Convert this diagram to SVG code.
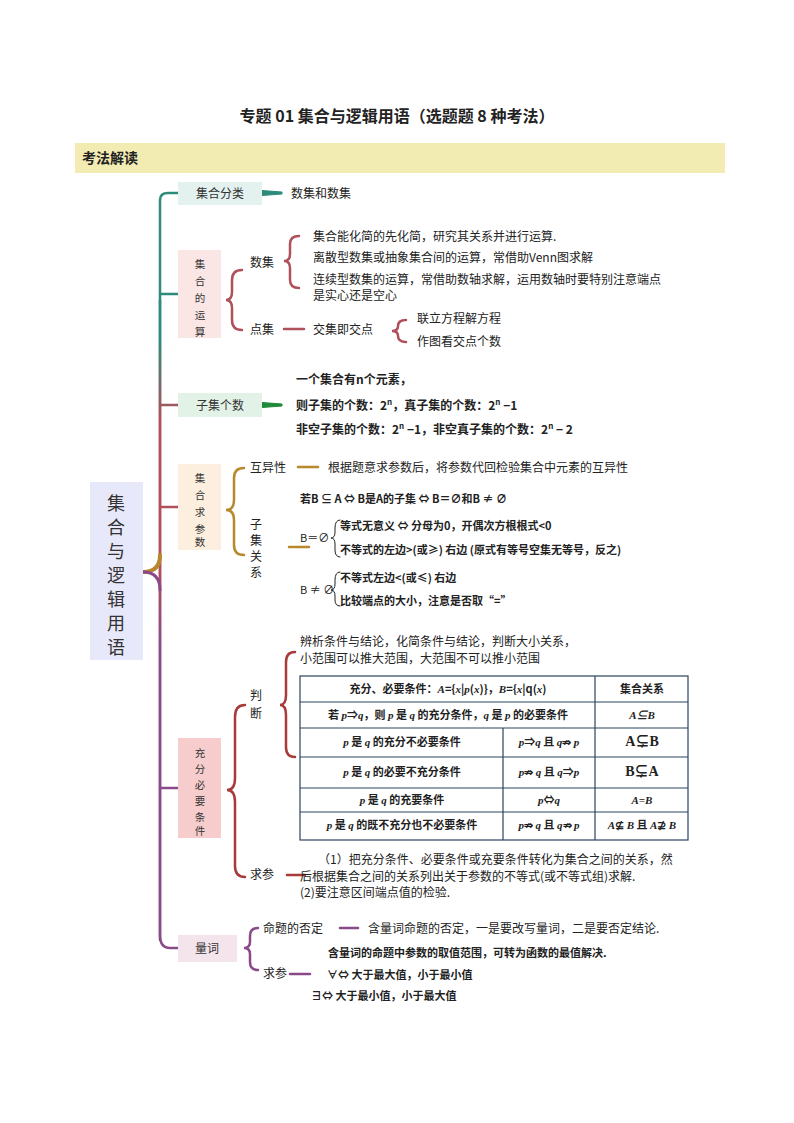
<svg xmlns="http://www.w3.org/2000/svg" width="794" height="1123" viewBox="0 0 794 1123">
<style>
text{font-family:"Noto Sans CJK SC","Liberation Sans",sans-serif;font-size:12px;fill:#222}
.b{font-weight:bold}
.s{font-family:"Liberation Serif","Noto Sans CJK SC",serif}
.node{font-size:12px;fill:#333}
.v{font-size:10.5px;fill:#333}
.c{text-anchor:middle}
.tb{fill:none;stroke:#2a4560;stroke-width:1.2}
.i{font-style:italic}
</style>
<defs>
<linearGradient id="trunk" x1="0" y1="190" x2="0" y2="950" gradientUnits="userSpaceOnUse">
<stop offset="0" stop-color="#2e8b7a"/><stop offset="0.2" stop-color="#2e8b7a"/><stop offset="0.3" stop-color="#b0505a"/><stop offset="0.5" stop-color="#b0505a"/><stop offset="0.6" stop-color="#8a4a8a"/><stop offset="1" stop-color="#8a4a8a"/>
</linearGradient>
</defs>
<text x="397" y="122" class="b c" style="font-size:16px">专题 01  集合与逻辑用语（选题题 8 种考法）</text>
<rect x="75" y="143" width="650" height="30" fill="#f3ecb2"/>
<text x="82" y="163" class="b" style="font-size:14px">考法解读</text>

<g id="connectors" fill="none" stroke-linecap="round">
<path d="M160 200 Q160 193 168 193 L178 193 M160 300 L160 935 Q160 948 170 948 L178 948" stroke="url(#trunk)" stroke-width="2.5"/>
<path d="M160 200 L160 940" stroke="url(#trunk)" stroke-width="2.5"/>
<path d="M160 294 L178 294 M160 405 L178 405 M160 507 L178 507 M160 788 L178 788" stroke="url(#trunk)" stroke-width="2.5"/>
<path d="M143 572 Q160 572 160 555" stroke="#b8892c" stroke-width="4"/>
<path d="M143 572 Q160 572 160 590" stroke="#8a4a8a" stroke-width="3"/>
<g stroke="#b0505a" stroke-width="2.5">
<path d="M242 270 Q232 270 232 280 L232 292 Q232 300 226 300 Q232 300 232 308 L232 320 Q232 330 242 330"/>
<path d="M299 236 Q290 236 290 244 L290 254 Q290 261 284 261 Q290 261 290 268 L290 280 Q290 288 299 288"/>
<path d="M406 320 Q398 320 398 326 Q398 331 392 331 Q398 331 398 336 Q398 342 406 342"/>
<path d="M284 329 L304 329"/>
</g>
<g stroke="#b8892c" stroke-width="2.5">
<path d="M244 468 Q234 468 234 478 L234 500 Q234 510 226 510 Q234 510 234 520 L234 545 Q234 555 244 555"/>
<path d="M298 467 L318 467 M289 547 L309 547"/>
</g>
<g stroke="#222" stroke-width="1">
<path d="M340 520 Q335 520 335 528 L335 532 Q335 538 331 538 Q335 538 335 544 L335 550 Q335 557 340 557"/>
<path d="M340 572 Q335 572 335 580 L335 584 Q335 590 331 590 Q335 590 335 596 L335 600 Q335 606 340 606"/>
</g>
<g stroke="#a83a3a" stroke-width="2.5">
<path d="M245 705 Q235 705 235 717 L235 778 Q235 790 227 790 Q235 790 235 802 L235 866 Q235 877 245 877"/>
<path d="M295 652 Q286 652 286 662 L286 695 Q286 705 280 705 Q286 705 286 715 L286 747 Q286 757 295 757"/>
<path d="M287 875 L305 875"/>
</g>
<g stroke="#8a4a8a" stroke-width="2.5">
<path d="M258 928 Q250 928 250 936 L250 942 Q250 948 244 948 Q250 948 250 954 L250 962 Q250 970 258 970"/>
<path d="M340 928 L358 928 M290 974 L310 974"/>
</g>
<path d="M262 190.5 L282 192 L282 194 L262 195.5 Z" fill="#2e8b7a" stroke="#2e8b7a" stroke-width="1"/>
<path d="M262 402.5 L282 404 L282 406 L262 407.5 Z" fill="#1e8a3a" stroke="#1e8a3a" stroke-width="1"/>
</g>

<g id="root"><rect x="90" y="482" width="53" height="178" fill="#e8e8fb"/>
<text class="c" style="font-size:18px;fill:#333"><tspan x="116" y="510">集</tspan><tspan x="116" y="534">合</tspan><tspan x="116" y="558">与</tspan><tspan x="116" y="582">逻</tspan><tspan x="116" y="606">辑</tspan><tspan x="116" y="630">用</tspan><tspan x="116" y="654">语</tspan></text>
</g>
<g id="n1"><rect x="178" y="182" width="84" height="23" fill="#e3f2ee"/><text class="node c" x="220" y="198">集合分类</text><text x="291" y="198">数集和数集</text></g>
<g id="n2"><rect x="178" y="250" width="43" height="88" fill="#fbe6e6"/>
<text class="v c"><tspan x="200" y="268">集</tspan><tspan x="200" y="285">合</tspan><tspan x="200" y="302">的</tspan><tspan x="200" y="319">运</tspan><tspan x="200" y="336">算</tspan></text>
<text x="250" y="267">数集</text><text x="250" y="334">点集</text>
<text x="313" y="241">集合能化简的先化简，研究其关系并进行运算.</text>
<text x="313" y="262">离散型数集或抽象集合间的运算，常借助Venn图求解</text>
<text x="313" y="284">连续型数集的运算，常借助数轴求解，运用数轴时要特别注意端点</text>
<text x="313" y="300">是实心还是空心</text>
<text x="313" y="334">交集即交点</text><text x="417" y="323">联立方程解方程</text><text x="417" y="346">作图看交点个数</text></g>
<g id="n3"><rect x="178" y="393" width="84" height="24" fill="#e3f2e6"/><text class="node c" x="220" y="410">子集个数</text>
<text class="b" x="296" y="384">一个集合有n个元素，</text>
<text class="b" x="296" y="410">则子集的个数：2<tspan dy="-5" style="font-size:8px">n</tspan><tspan dy="5">，真子集的个数：2</tspan><tspan dy="-5" style="font-size:8px">n</tspan><tspan dy="5"> −1</tspan></text>
<text class="b" x="296" y="434">非空子集的个数：2<tspan dy="-5" style="font-size:8px">n</tspan><tspan dy="5"> −1，非空真子集的个数：2</tspan><tspan dy="-5" style="font-size:8px">n</tspan><tspan dy="5"> − 2</tspan></text></g>
<g id="n4"><rect x="178" y="464" width="43" height="86" fill="#fcefe0"/>
<text class="v c"><tspan x="200" y="482">集</tspan><tspan x="200" y="499">合</tspan><tspan x="200" y="516">求</tspan><tspan x="200" y="533">参</tspan><tspan x="200" y="550" dy="-4">数</tspan></text>
<text x="250" y="472">互异性</text><text x="328" y="472">根据题意求参数后，将参数代回检验集合中元素的互异性</text>
<text class="c"><tspan x="256" y="529">子</tspan><tspan x="256" y="545">集</tspan><tspan x="256" y="561">关</tspan><tspan x="256" y="577">系</tspan></text>
<text x="300" y="503" style="font-size:11px" class="b">若B ⊆ A ⇔ B是A的子集 ⇔ B＝∅和B ≠ ∅</text>
<text x="300" y="542" style="font-size:11px">B＝∅</text>
<text x="340" y="530" style="font-size:11px" class="b">等式无意义 ⇔ 分母为0，开偶次方根根式&lt;0</text>
<text x="340" y="554" style="font-size:11px" class="b">不等式的左边&gt;(或≥) 右边 (原式有等号空集无等号，反之)</text>
<text x="300" y="594" style="font-size:11px">B ≠ ∅</text>
<text x="340" y="582" style="font-size:11px" class="b">不等式左边&lt;(或≤) 右边</text>
<text x="340" y="605" style="font-size:11px" class="b">比较端点的大小，注意是否取“=”</text></g>
<g id="n5"><rect x="178" y="738" width="43" height="100" fill="#f6cccc"/>
<text class="v c"><tspan x="200" y="757">充</tspan><tspan x="200" y="773">分</tspan><tspan x="200" y="789">必</tspan><tspan x="200" y="805">要</tspan><tspan x="200" y="821">条</tspan><tspan x="200" y="837" dy="-2">件</tspan></text>
<text class="c"><tspan x="256" y="700">判</tspan><tspan x="256" y="718">断</tspan></text>
<text x="300" y="646">辨析条件与结论，化简条件与结论，判断大小关系，</text>
<text x="300" y="663">小范围可以推大范围，大范围不可以推小范围</text>
<text x="250" y="879">求参</text>
<text x="318" y="864">（1）把充分条件、必要条件或充要条件转化为集合之间的关系，然</text>
<text x="300" y="881">后根据集合之间的关系列出关于参数的不等式(或不等式组)求解.</text>
<text x="300" y="897">(2)要注意区间端点值的检验.</text></g>
<g id="table">
<rect class="tb" x="300" y="676" width="388" height="164"/>
<path class="tb" d="M300 702 H688 M300 728 H688 M300 757 H688 M300 788 H688 M300 812 H688 M595 676 V840 M503 728 V840"/>
<g class="b">
<text class="c" x="448" y="693" style="font-size:11px">充分、必要条件：<tspan class="i s">A</tspan>={<tspan class="i s">x</tspan>|<tspan class="i s">p</tspan>(<tspan class="i s">x</tspan>)}，<tspan class="i s">B</tspan>={<tspan class="i s">x</tspan>|q(<tspan class="i s">x</tspan>)</text>
<text class="c" x="642" y="693" style="font-size:11px">集合关系</text>
<text class="c" x="448" y="719" style="font-size:11px">若 <tspan class="i s">p</tspan>⇒<tspan class="i s">q</tspan>，则 <tspan class="i s">p</tspan> 是 <tspan class="i s">q</tspan> 的充分条件，<tspan class="i s">q</tspan> 是 <tspan class="i s">p</tspan> 的必要条件</text>
<text class="c i s" x="642" y="719" style="font-size:11px">A⊆B</text>
<text class="c" x="402" y="746" style="font-size:11px"><tspan class="i s">p</tspan> 是 <tspan class="i s">q</tspan> 的充分不必要条件</text>
<text class="c" x="549" y="746" style="font-size:11px"><tspan class="i s">p</tspan>⇒<tspan class="i s">q</tspan> 且 <tspan class="i s">q</tspan>⇏ <tspan class="i s">p</tspan></text>
<text class="c s" x="642" y="746" style="font-size:14px">A⊊B</text>
<text class="c" x="402" y="776" style="font-size:11px"><tspan class="i s">p</tspan> 是 <tspan class="i s">q</tspan> 的必要不充分条件</text>
<text class="c" x="549" y="776" style="font-size:11px"><tspan class="i s">p</tspan>⇏ <tspan class="i s">q</tspan> 且 <tspan class="i s">q</tspan>⇒<tspan class="i s">p</tspan></text>
<text class="c s" x="642" y="776" style="font-size:14px">B⊊A</text>
<text class="c" x="402" y="804" style="font-size:11px"><tspan class="i s">p</tspan> 是 <tspan class="i s">q</tspan> 的充要条件</text>
<text class="c" x="549" y="804" style="font-size:11px"><tspan class="i s">p</tspan>⇔<tspan class="i s">q</tspan></text>
<text class="c i s" x="642" y="804" style="font-size:11px">A=B</text>
<text class="c" x="402" y="829" style="font-size:11px"><tspan class="i s">p</tspan> 是 <tspan class="i s">q</tspan> 的既不充分也不必要条件</text>
<text class="c" x="549" y="829" style="font-size:11px"><tspan class="i s">p</tspan>⇏ <tspan class="i s">q</tspan> 且 <tspan class="i s">q</tspan>⇏ <tspan class="i s">p</tspan></text>
<text class="c" x="642" y="829" style="font-size:11px"><tspan class="i s">A</tspan>⊈ <tspan class="i s">B</tspan> 且 <tspan class="i s">A</tspan>⊉ <tspan class="i s">B</tspan></text>
</g></g>
<g id="n6"><rect x="178" y="935" width="59" height="27" fill="#f4e4ec"/><text class="node c" x="207" y="953">量词</text>
<text x="263" y="933">命题的否定</text><text x="368" y="933">含量词命题的否定，一是要改写量词，二是要否定结论.</text>
<text x="328" y="957" class="b" style="font-size:11px">含量词的命题中参数的取值范围，可转为函数的最值解决.</text>
<text x="263" y="978">求参</text>
<text x="327" y="979" class="b" style="font-size:11px">∀⇔ 大于最大值，小于最小值</text>
<text x="311" y="1000" class="b" style="font-size:11px">∃⇔ 大于最小值，小于最大值</text></g>
</svg>
